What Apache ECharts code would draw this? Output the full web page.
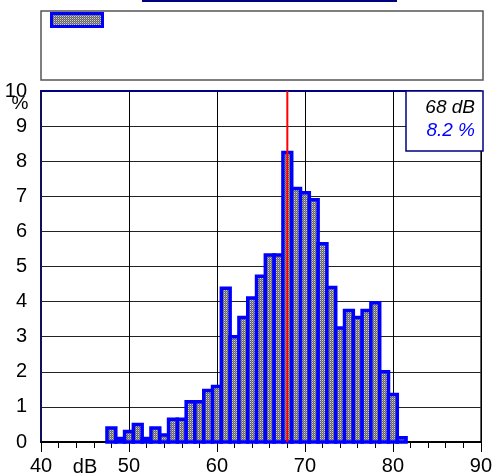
<!DOCTYPE html>
<html>
<head>
<meta charset="utf-8">
<script src="https://cdn.jsdelivr.net/npm/echarts@6/dist/echarts.min.js"></script>
<style>html,body{margin:0;padding:0;background:#fff;}#c{width:495px;height:476px;}</style>
</head>
<body>
<div id="c"></div>
<script>
// Data
const levels = [48,49,50,51,52,53,54,55,56,57,58,59,60,61,62,63,64,65,66,67,68,69,70,71,72,73,74,75,76,77,78,79,80,81];
const percents = [0.4,0.1,0.3,0.5,0.1,0.4,0.2,0.65,0.65,1.15,1.15,1.47,1.58,4.38,3.0,3.55,4.1,4.72,5.33,5.33,8.25,7.22,7.1,6.9,5.65,4.4,3.25,3.75,3.55,3.75,3.97,2.0,1.35,0.12];
const xTicks = [40,50,60,70,80,90];
const yTicks = [0,1,2,3,4,5,6,7,8,9,10];
const markerLevel = 68;
const markerText = ['68 dB', '8.2 %'];

const font = '"Liberation Sans", Arial, sans-serif';

// pattern fill
const pc = document.createElement('canvas');
pc.width = 2; pc.height = 2;
const pctx = pc.getContext('2d');
pctx.fillStyle = '#666666'; pctx.fillRect(0,0,2,2);
pctx.fillStyle = '#d0d0d0'; pctx.fillRect(0,0,1,1);
pctx.fillStyle = '#8e8e8e'; pctx.fillRect(1,1,1,1);
const pattern = {image: pc, repeat: 'repeat'};

const chart = echarts.init(document.getElementById('c'), null, {renderer: 'canvas'});
const barData = levels.map((l, i) => [l, percents[i]]);

chart.setOption({
  animation: false,
  grid: {left: 41, right: 12, top: 91, bottom: 34, show: true, borderColor: '#000', borderWidth: 1},
  xAxis: [{
    type: 'value', min: xTicks[0], max: xTicks[xTicks.length-1], interval: 10,
    axisLine: {show: true, lineStyle: {color: '#000', width: 2}},
    axisTick: {show: true, length: 10, lineStyle: {color: '#000', width: 1}},
    minorTick: {show: true, splitNumber: 5, length: 6, lineStyle: {color: '#000', width: 1}},
    axisLabel: {color: '#000', fontSize: 20, fontFamily: font, margin: 14},
    splitLine: {show: true, lineStyle: {color: '#000', width: 1}}
  }, {
    type: 'value', position: 'top', min: 40, max: 90,
    axisLine: {show: true, onZero: false, lineStyle: {color: '#000080', width: 2}},
    axisTick: {show: false}, axisLabel: {show: false}, splitLine: {show: false}
  }],
  yAxis: [{
    type: 'value', min: yTicks[0], max: yTicks[yTicks.length-1], interval: 1,
    axisLine: {show: true, lineStyle: {color: '#10105a', width: 2}},
    axisTick: {show: false},
    axisLabel: {color: '#000', fontSize: 20, fontFamily: font, margin: 14},
    splitLine: {show: true, lineStyle: {color: '#222', width: 1}}
  }],
  series: [{
    type: 'custom',
    data: barData,
    encode: {x: 0, y: 1},
    renderItem: function (params, api) {
      const x = api.value(0), y = api.value(1);
      const p0 = api.coord([x - 0.5, y]);
      const p1 = api.coord([x + 0.5, 0]);
      return {
        type: 'rect',
        shape: {x: p0[0], y: p0[1], width: p1[0] - p0[0], height: p1[1] - p0[1]},
        style: {fill: pattern, stroke: '#0000ff', lineWidth: 3.5}
      };
    },
    z: 3
  }, {
    type: 'line',
    data: [[markerLevel, 0], [markerLevel, 10]],
    symbol: 'none',
    lineStyle: {color: '#ff0000', width: 2},
    z: 4
  }],
  graphic: [
    {type: 'rect', left: 142, top: 0, shape: {width: 255, height: 2}, style: {fill: '#000080'}},
    {type: 'rect', shape: {x: 41, y: 11, width: 442, height: 69}, style: {fill: 'none', stroke: '#555', lineWidth: 1.5}},
    {type: 'rect', shape: {x: 51.5, y: 13.5, width: 51, height: 13}, style: {fill: pattern, stroke: '#0000ff', lineWidth: 3}},
    {type: 'rect', shape: {x: 406, y: 91, width: 77, height: 60}, style: {fill: '#fff', stroke: '#000080', lineWidth: 1.5}, z: 10},
    {type: 'text', z: 11, style: {x: 475, y: 108, text: markerText[0], fill: '#000', font: 'italic 19px ' + font, textAlign: 'right', textVerticalAlign: 'middle'}},
    {type: 'text', z: 11, style: {x: 475, y: 131, text: markerText[1], fill: '#0000ff', font: 'italic 19px ' + font, textAlign: 'right', textVerticalAlign: 'middle'}},
    {type: 'text', style: {x: 20, y: 104, text: '%', fill: '#000', font: '19px ' + font, textAlign: 'center', textVerticalAlign: 'middle'}},
    {type: 'text', style: {x: 85, y: 467, text: 'dB', fill: '#000', font: '20px ' + font, textAlign: 'center', textVerticalAlign: 'middle'}}
  ]
});
</script>
</body>
</html>
